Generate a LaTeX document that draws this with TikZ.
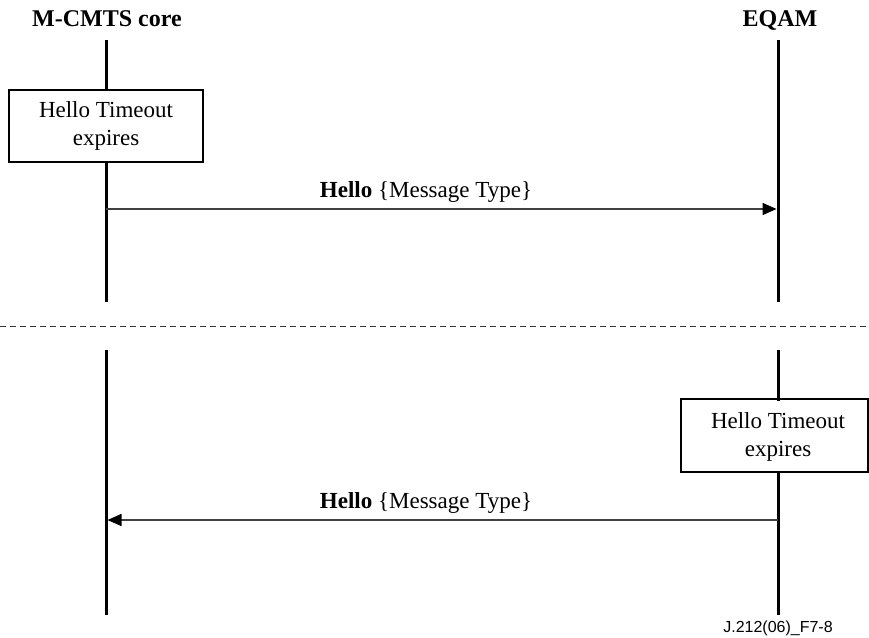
\documentclass[tikz,border=0pt]{standalone}
\usepackage{fontspec}
\setmainfont{Liberation Serif}
\setsansfont{Liberation Sans}
\usetikzlibrary{arrows.meta}
\begin{document}
\begin{tikzpicture}[x=1pt,y=-1pt,
  lifeline/.style={line width=3pt, black},
  timer/.style={line width=2.5pt, fill=white, minimum width=194pt, minimum height=72pt,
    align=center, inner sep=0pt, font=\fontsize{23}{28}\selectfont},
  msg/.style={line width=1.5pt, draw=black!75, shorten >=1.5pt,
    -{Triangle[length=14pt,width=12pt,fill=black,color=black]}},
  msglabel/.style={anchor=base, inner sep=0pt, font=\fontsize{23}{28}\selectfont},
  heading/.style={anchor=base, inner sep=0pt, font=\fontsize{24}{28}\selectfont\bfseries},
  separator/.style={line width=1pt, black!80, dash pattern=on 6pt off 4pt},
  figref/.style={anchor=base, inner sep=0pt, font=\sffamily\fontsize{16}{18}\selectfont}]
\useasboundingbox (0,0) rectangle (869,637);

% entity headings
\node[heading] (core) at (107,27) {M-CMTS core};
\node[heading] (eqam) at (780,27) {EQAM};

% lifeline end points
\coordinate (coreTopA) at (106,40);
\coordinate (coreTopB) at (106,302);
\coordinate (eqamTopA) at (778,40);
\coordinate (eqamTopB) at (778,302);
\coordinate (coreBotA) at (106,350);
\coordinate (coreBotB) at (106,615);
\coordinate (eqamBotA) at (778,350);
\coordinate (eqamBotB) at (778,615);

% lifelines
\draw[lifeline] (coreTopA) -- (coreTopB);
\draw[lifeline] (eqamTopA) -- (eqamTopB);
\draw[lifeline] (coreBotA) -- (coreBotB);
\draw[lifeline] (eqamBotA) -- (eqamBotB);

% upper scenario: timeout at the core, Hello sent to the EQAM
\node[timer, draw] (timerCore) at (106,126) {Hello Timeout\\expires};
\coordinate (helloOutA) at (106,209);
\coordinate (helloOutB) at (778,209);
\draw[msg] (helloOutA) -- (helloOutB);
\node[msglabel] (helloOutLbl) at (426,197) {\textbf{Hello} \{Message Type\}};

% separator between the two scenarios
\coordinate (sepA) at (0,326);
\coordinate (sepB) at (869,326);
\draw[separator] (sepA) -- (sepB);

% lower scenario: timeout at the EQAM, Hello sent to the core
\node[timer] (timerEqam) at (778,437) {Hello Timeout\\expires};
\draw[line width=2.5pt] (778-97,399) rectangle (867.75,472);
\coordinate (helloInA) at (778,520);
\coordinate (helloInB) at (106,520);
\draw[msg] (helloInA) -- (helloInB);
\node[msglabel] (helloInLbl) at (426,508) {\textbf{Hello} \{Message Type\}};

% figure reference
\node[figref] (ref) at (778,632) {J.212(06)\_F7-8};
\end{tikzpicture}
\end{document}
